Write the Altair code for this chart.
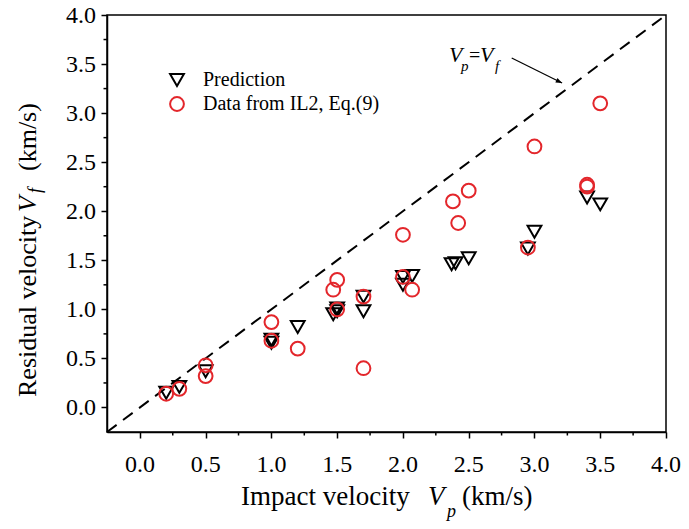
import altair as alt
import pandas as pd

# ---- data ----
pred_x = [0.2, 0.3, 0.5, 1.0, 1.0, 1.2, 1.47, 1.5, 1.5, 1.7, 1.7, 2.0, 2.0, 2.07, 2.37, 2.4, 2.5, 2.95, 3.0, 3.4, 3.5]
pred_y = [0.15, 0.21, 0.37, 0.69, 0.66, 0.82, 0.95, 0.98, 1.01, 1.13, 0.98, 1.25, 1.33, 1.34, 1.46, 1.47, 1.52, 1.62, 1.79, 2.14, 2.07]

il2_x = [0.2, 0.3, 0.5, 0.5, 1.0, 1.0, 1.2, 1.47, 1.5, 1.5, 1.7, 1.7, 2.0, 2.0, 2.07, 2.38, 2.42, 2.5, 2.95, 3.0, 3.4, 3.4, 3.5]
il2_y = [0.14, 0.19, 0.43, 0.32, 0.87, 0.68, 0.60, 1.20, 1.30, 1.00, 1.13, 0.40, 1.76, 1.33, 1.20, 2.10, 1.88, 2.21, 1.63, 2.66, 2.27, 2.25, 3.10]

series_names = ["Prediction", "Data from IL2, Eq.(9)"]
series_colors = ["black", "#e3262b"]
series_shapes = ["triangle-down", "circle"]

major_ticks = [0.0, 0.5, 1.0, 1.5, 2.0, 2.5, 3.0, 3.5, 4.0]
minor_ticks = [0.25, 0.75, 1.25, 1.75, 2.25, 2.75, 3.25, 3.75]

diag_x = [-0.25, 4.0]
diag_y = [-0.25, 4.0]

arrow_x = [2.827, 3.21]
arrow_y = [3.562, 3.307]

# ---- layout ----
W, H = 559, 417
FONT = "Liberation Serif"

xscale = alt.Scale(domain=[-0.25, 4.0], nice=False, zero=False)
yscale = alt.Scale(domain=[-0.25, 4.0], nice=False, zero=False)

xaxis = alt.Axis(values=major_ticks, title=None, labels=False)
yaxis = alt.Axis(values=major_ticks, title=None, labels=False)

diag_df = pd.DataFrame({"x": diag_x, "y": diag_y})
diag = alt.Chart(diag_df).mark_line(color="black", strokeWidth=2, strokeDash=[12, 8]).encode(
    x=alt.X("x:Q", scale=xscale, axis=xaxis),
    y=alt.Y("y:Q", scale=yscale, axis=yaxis),
)

minor_df = pd.DataFrame({"v": minor_ticks})
minor_x = alt.Chart(minor_df).mark_rule(color="black", strokeWidth=1.5).encode(
    x=alt.X("v:Q", scale=xscale, axis=xaxis),
    y=alt.value(H), y2=alt.value(H + 3.5),
)
minor_y = alt.Chart(minor_df).mark_rule(color="black", strokeWidth=1.5).encode(
    y=alt.Y("v:Q", scale=yscale, axis=yaxis),
    x=alt.value(0), x2=alt.value(-3.5),
)

# tick labels as serif text, positioned by the scales
tick_df = pd.DataFrame({"v": major_ticks})
x_labels = alt.Chart(tick_df).transform_calculate(lab="format(datum.v, '.1f')").mark_text(
    font=FONT, fontSize=24, color="black", align="center", baseline="alphabetic"
).encode(x=alt.X("v:Q", scale=xscale, axis=xaxis), y=alt.value(H + 40), text="lab:N")
y_labels = alt.Chart(tick_df).transform_calculate(lab="format(datum.v, '.1f')").mark_text(
    font=FONT, fontSize=24, color="black", align="right", baseline="middle", dy=1
).encode(y=alt.Y("v:Q", scale=yscale, axis=yaxis), x=alt.value(-11), text="lab:N")

pts = pd.concat([
    pd.DataFrame({"x": pred_x, "y": pred_y, "series": series_names[0], "order": 0}),
    pd.DataFrame({"x": il2_x, "y": il2_y, "series": series_names[1], "order": 1}),
], ignore_index=True)

leg = alt.Legend(title=None, orient="none", legendX=60, legendY=55, padding=0,
                 labelOffset=16, labelLimit=400,
                 symbolSize=190, symbolStrokeWidth=2, rowPadding=3)

points = alt.Chart(pts).mark_point(filled=False, size=190, strokeWidth=2, opacity=1).encode(
    x=alt.X("x:Q", scale=xscale, axis=xaxis),
    y=alt.Y("y:Q", scale=yscale, axis=yaxis),
    color=alt.Color("series:N", scale=alt.Scale(domain=series_names, range=series_colors), legend=leg),
    shape=alt.Shape("series:N", scale=alt.Scale(domain=series_names, range=series_shapes), legend=leg),
    order=alt.Order("order:Q"),
)

arrow_df = pd.DataFrame({"x": arrow_x, "y": arrow_y})
arrow_line = alt.Chart(arrow_df).mark_line(color="black", strokeWidth=1.2).encode(
    x=alt.X("x:Q", scale=xscale, axis=xaxis), y=alt.Y("y:Q", scale=yscale, axis=yaxis))
arrow_head = alt.Chart(arrow_df.iloc[[1]]).mark_point(
    shape="M0,0 L-1,-0.38 L-1,0.38 Z", angle=26, filled=True, color="black", size=160, opacity=1
).encode(x=alt.X("x:Q", scale=xscale, axis=xaxis), y=alt.Y("y:Q", scale=yscale, axis=yaxis))


def txt(s, x, y, size, style="normal", angle=0):
    return alt.Chart(pd.DataFrame({"t": [s]})).mark_text(
        font=FONT, fontSize=size, fontStyle=style, color="black", align="left",
        baseline="alphabetic", angle=angle
    ).encode(x=alt.value(x), y=alt.value(y), text="t:N")


texts = [
    # x-axis title
    txt("Impact velocity", 134, 490, 27),
    txt("V", 321, 490, 27, "italic"),
    txt("p", 340, 502, 18, "italic"),
    txt("(km/s)", 355, 490, 27),
    # y-axis title
    txt("Residual velocity", -71, 382, 26, angle=270),
    txt("V", -71, 197, 26, "italic", angle=270),
    txt("f", -66, 178, 18, "italic", angle=270),
    txt("(km/s)", -71, 156, 26, angle=270),
    # annotation
    txt("V", 342, 47, 22, "italic"),
    txt("p", 354, 56, 15, "italic"),
    txt("=", 362, 47, 20),
    txt("V", 373, 47, 22, "italic"),
    txt("f", 388, 56, 15, "italic"),
]

chart = alt.layer(diag, minor_x, minor_y, x_labels, y_labels, points, arrow_line, arrow_head, *texts).properties(
    width=W, height=H,
    padding={"left": 99, "top": 7, "right": 15, "bottom": 98},
    autosize="none",
).configure(
    font=FONT
).configure_view(
    stroke="black", strokeWidth=1.5
).configure_axis(
    grid=False, tickSize=6, tickWidth=1.5, domainWidth=1.5, domainColor="black",
    tickColor="black",
).configure_legend(
    labelFont=FONT, labelFontSize=20, labelColor="black", labelLimit=400,
)

chart.save("out.html", embed_options={"renderer": "svg", "actions": False})
